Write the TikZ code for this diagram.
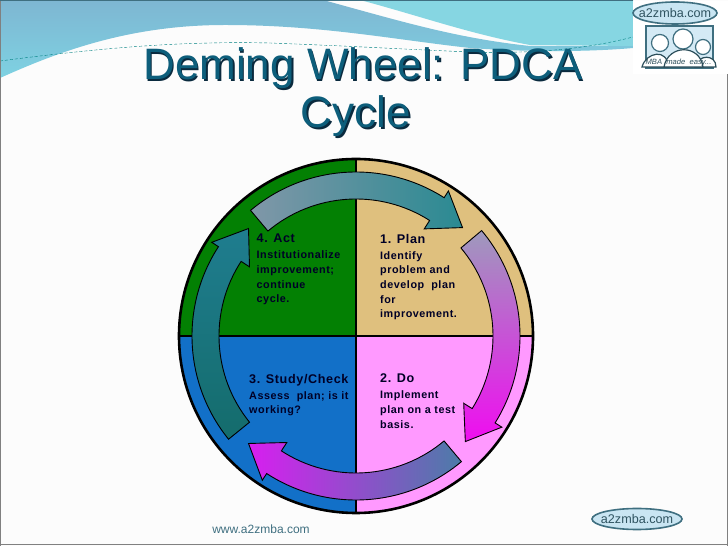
\documentclass[tikz,border=0pt]{standalone}
\usepackage{fontspec}
\setmainfont{Liberation Sans}
\newfontfamily\widefont[LetterSpace=5]{Liberation Sans}

\definecolor{plantan}{HTML}{DFC07E}
\definecolor{dopink}{HTML}{FF99FF}
\definecolor{checkblue}{HTML}{1270C8}
\definecolor{actgreen}{HTML}{038003}
\definecolor{titleteal}{HTML}{0D5E7B}
\definecolor{titleshade}{HTML}{0A2A3E}
\definecolor{logoline}{HTML}{3F6F80}
\definecolor{logofill}{HTML}{C9E5F2}
\definecolor{bandtop}{HTML}{7EB6D2}
\definecolor{bandlow}{HTML}{7ED2E2}
\definecolor{bandright}{HTML}{86D6E2}
\definecolor{plantail}{HTML}{8097A8}
\definecolor{planhead}{HTML}{2A8A92}
\definecolor{dotail}{HTML}{9E9ABC}
\definecolor{dohead}{HTML}{F00CF0}
\definecolor{checktail}{HTML}{4C7CA8}
\definecolor{checkhead}{HTML}{D81EF0}
\definecolor{acttail}{HTML}{146C6C}
\definecolor{acthead}{HTML}{1F7D8F}

\begin{document}
\begin{tikzpicture}[
        x=1pt,
        y=1pt,
        every node/.style={inner sep=0pt},
        quadrant/.style={
            align=left,
            anchor=north west,
            text=black!85!blue,
            font=\widefont\bfseries\fontsize{10.8}{14.6}\selectfont
        },
        titleline/.style={
            anchor=base,
            font=\fontsize{44}{44}\selectfont
        },
        ringarrow/.style={
            draw=black,
            line width=0.9pt,
            line join=miter
        },
        planarrow/.style={left color=plantail, right color=planhead},
        doarrow/.style={top color=dotail, bottom color=dohead},
        checkarrow/.style={left color=checkhead, right color=checktail},
        actarrow/.style={top color=acthead, bottom color=acttail},
        ovalline/.style={
            draw=logoline,
            line width=1.6pt,
            fill=logofill
        },
        ovaltext/.style={
            text=logoline!75!black,
            font=\fontsize{12.6}{14}\selectfont
        },
        head/.style={
            circle,
            draw=logoline,
            line width=1.2pt,
            fill=white
        },
        shoulder/.style={
            draw=logoline!70!black,
            line width=1.2pt,
            fill=white
        }
    ]

    % page and top band
    \path[use as bounding box] (0,0) rectangle (728,546);
    \fill[black!1] (0,0) rectangle (728,546);
    \shade[top color=bandtop, bottom color=bandlow]
        (0,546) -- (323,546) .. controls (400,525) and (455,508) .. (530,500)
        -- (633,500) -- (633,498)
        .. controls (600,495) and (540,493) .. (470,498)
        .. controls (390,507) and (320,521) .. (225,521)
        .. controls (130,521) and (60,495) .. (0,468) -- cycle;
    \fill[bandright]
        (360,546) -- (633,546) -- (633,500) -- (530,501)
        .. controls (470,512) and (420,530) .. (360,546) -- cycle;
    \draw[teal, densely dashed, line width=0.4pt]
        (0,485) .. controls (100,498) and (180,505) .. (270,503)
        .. controls (350,500) and (420,496) .. (470,494)
        .. controls (540,492) and (590,498) .. (633,509);

    % frame
    \draw[gray, line width=1pt] (0.5,0) -- (0.5,546);
    \draw[gray, line width=1.5pt] (0,1.5) -- (728,1.5);
    \draw[gray, line width=1pt] (727.5,0) -- (727.5,476);
    \draw[logoline, line width=1pt] (0,545.5) -- (633,545.5);

    % title
    \foreach \tag/\off/\col in {back/1.6/titleshade, front/0/titleteal}{
        \node[titleline, text=\col] (titleone\tag) at (363+\off,466-\off) {Deming Wheel: PDCA};
        \node[titleline, text=\col] (titletwo\tag) at (356+\off,418-\off) {Cycle};
    }

    % wheel
    \begin{scope}[shift={(356,210)}]
        \coordinate (hub) at (0,0);
        \fill[plantan] (hub) -- (0:177) arc[start angle=0, end angle=90, radius=177] -- cycle;
        \fill[actgreen] (hub) -- (90:177) arc[start angle=90, end angle=180, radius=177] -- cycle;
        \fill[checkblue] (hub) -- (180:177) arc[start angle=180, end angle=270, radius=177] -- cycle;
        \fill[dopink] (hub) -- (270:177) arc[start angle=270, end angle=360, radius=177] -- cycle;
        \draw[line width=2.6pt] (-177,0) -- (177,0);
        \draw[line width=2.6pt] (0,-177) -- (0,177);
        \draw[line width=2.6pt] (hub) circle[radius=177];

        % arrows round the ring
        \foreach \tail/\barb/\tip/\look in {130/57.5/45.5/planarrow, 40/-32/-44/doarrow,
            -50/-123/-135/checkarrow, 219/147/135/actarrow}{
            \shadedraw[ringarrow, \look]
                (\tail:164) arc[start angle=\tail, end angle=\barb, radius=164]
                -- (\barb:172) -- (\tip:152) -- (\barb:127) -- (\barb:137)
                arc[start angle=\barb, end angle=\tail, radius=137] -- cycle;
        }
    \end{scope}

    % quadrant text
    \node[quadrant] (plan) at (380,312)
    {{\fontsize{12.6}{14.6}\selectfont 1. Plan}\\[1.4pt]
        Identify\\ problem and\\ develop\ \ plan\\ for\\ improvement.};
    \node[quadrant] (act) at (256.5,312)
    {{\fontsize{12.6}{14.6}\selectfont 4. Act}\\[1.4pt]
        Institutionalize\\ improvement;\\ continue\\ cycle.};
    \node[quadrant] (check) at (249,172)
    {{\fontsize{12.6}{14.6}\selectfont 3. Study/Check}\\[1.4pt]
        Assess\ \ plan; is it\\ working?};
    \node[quadrant] (do) at (380,172)
    {{\fontsize{12.6}{14.6}\selectfont 2. Do}\\[1.4pt]
        Implement\\ plan on a test\\ basis.};

    % footer
    \node[text=logoline, font=\fontsize{12}{12}\selectfont] (site) at (261,17) {www.a2zmba.com};
    \draw[ovalline] (637,27) ellipse[x radius=45, y radius=10.5];
    \node[ovaltext] (footlogo) at (637,27) {a2zmba.com};

    % logo top right
    \fill[white] (633,472) rectangle (728,545);
    \draw[logoline, line width=1.5pt, fill=logofill!80!white] (646,478) rectangle (713,520);
    \node[head, minimum size=17pt] (headleft) at (660,503) {};
    \node[head, minimum size=15pt] (headright) at (703,499) {};
    \node[head, minimum size=20pt] (headmid) at (683,507) {};
    \draw[shoulder] (642,479) .. controls (646,494) and (668,498) .. (668,479) -- cycle;
    \draw[shoulder] (695,479) .. controls (698,492) and (716,492) .. (716,479) -- cycle;
    \draw[shoulder] (664,479) .. controls (668,502) and (700,502) .. (703,479) -- cycle;
    \node[text=logoline!70!black, font=\itshape\fontsize{7.6}{8}\selectfont] (motto) at (678.5,483) {MBA\ \ made\ \ easy...};
    \draw[ovalline] (675,533) ellipse[x radius=42, y radius=11];
    \node[ovaltext] (toplogo) at (675,533) {a2zmba.com};

\end{tikzpicture}
\end{document}
